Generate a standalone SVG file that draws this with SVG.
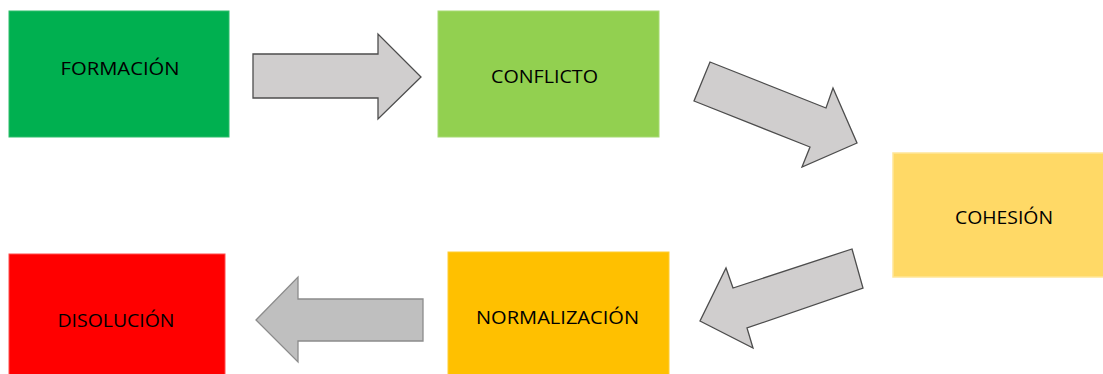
<svg xmlns="http://www.w3.org/2000/svg" width="1103" height="374" viewBox="0 0 1103 374">
<style>
.lbl{font-family:"Open Sans","Noto Sans","Liberation Sans",sans-serif;font-size:18px;fill:#000;text-anchor:middle}
.arr{fill:#D0CECE;stroke:#4D4D4D;stroke-width:1.3;stroke-linejoin:miter}
.arr2{fill:#BFBFBF;stroke:#8C8C8C;stroke-width:1.3}
</style>
<rect width="1103" height="374" fill="#fff"/>
<g id="formacion">
<rect x="9" y="11" width="220" height="126" fill="#00B050" stroke="#2DBD6A" stroke-width="1"/>
<text class="lbl" x="120" y="75" textLength="119" lengthAdjust="spacingAndGlyphs">FORMACIÓN</text>
</g>
<g id="conflicto">
<rect x="438" y="11" width="221" height="126" fill="#92D050" stroke="#A6DA73" stroke-width="1"/>
<text class="lbl" x="544.5" y="83" textLength="107" lengthAdjust="spacingAndGlyphs">CONFLICTO</text>
</g>
<g id="cohesion">
<rect x="893" y="153" width="211" height="124" fill="#FFD966" stroke="#FFE699" stroke-width="1.5"/>
<text class="lbl" x="1004" y="224" textLength="98" lengthAdjust="spacingAndGlyphs">COHESIÓN</text>
</g>
<g id="normalizacion">
<rect x="448" y="252" width="221" height="124" fill="#FFC000" stroke="#FFCD33" stroke-width="1"/>
<text class="lbl" x="557.5" y="324" textLength="163" lengthAdjust="spacingAndGlyphs">NORMALIZACIÓN</text>
</g>
<g id="disolucion">
<rect x="9" y="254" width="216" height="122" fill="#FF0000" stroke="#FF4D4D" stroke-width="1"/>
<text class="lbl" x="116" y="327" textLength="117" lengthAdjust="spacingAndGlyphs">DISOLUCIÓN</text>
</g>
<g id="connectors">
<polygon class="arr" points="253,54 378,54 378,34 421,77 378,119 378,98 253,98"/>
<polygon class="arr" points="710,62 826,108 833,88 857,143 802,167 810,147 694,101"/>
<polygon class="arr" points="852,249 863,288 747,328 753,348 700,321 726,268 733,288"/>
<polygon class="arr2" points="256,320 298,277 298,299 423,299 423,341 298,341 298,362"/>
</g>
</svg>
